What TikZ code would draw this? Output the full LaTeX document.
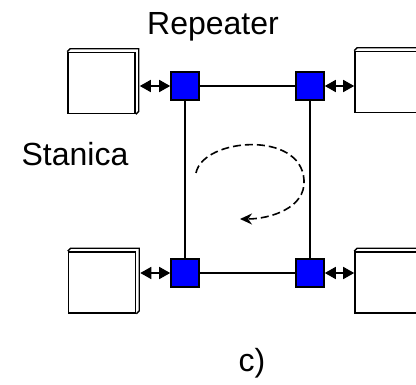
\documentclass[tikz,border=0pt]{standalone}
\usepackage{fontspec}
\setmainfont{Liberation Sans}
\usetikzlibrary{arrows.meta}

\begin{document}
\begin{tikzpicture}[x=1pt, y=-1pt, line width=1.6pt,
  repeater/.style={draw, fill=blue, minimum size=28pt, inner sep=0pt},
  station/.style={draw, fill=white, minimum width=67pt, minimum height=61pt, inner sep=0pt},
  link/.style={{Triangle[length=11pt,width=12pt]}-{Triangle[length=11pt,width=12pt]}},
  label/.style={anchor=base, font=\fontsize{32}{38}\selectfont}]
 \useasboundingbox (0,0) rectangle (416,385);

 % repeaters in the ring
 \node[repeater] (rTL) at (185,86) {};
 \node[repeater] (rTR) at (310,86) {};
 \node[repeater] (rBL) at (185,273) {};
 \node[repeater] (rBR) at (310,273) {};
 \draw (rTL) -- (rTR) -- (rBR) -- (rBL) -- (rTL);

 % stations
 \node[station] (sTL) at (101.5,83) {};
 \node[station] (sBL) at (102,282.5) {};
 \node[station] (sTR) at (388.5,82) {};
 \node[station] (sBR) at (388.5,282.5) {};
 \foreach \s in {sTL,sBL,sTR,sBR}
  \draw[line width=1.3pt] (\s.north west) -- ++(3,-3) -- ([shift={(3,-3)}]\s.north east)
   -- ([shift={(3,-3)}]\s.south east) -- (\s.south east);

 \draw[link] ([xshift=4pt]sTL.east |- rTL.west) -- (rTL.west);
 \draw[link] ([xshift=4pt]sBL.east |- rBL.west) -- (rBL.west);
 \draw[link] (rTR.east) -- (sTR.west |- rTR.east);
 \draw[link] (rBR.east) -- (sBR.west |- rBR.east);

 % direction of the ring
 \draw[dash pattern=on 8pt off 4pt, -{Stealth[length=12pt,width=11pt]}]
  (196,173) .. controls (203,138) and (301,130) .. (304,180)
  .. controls (306,208) and (270,219) .. (240,219);

 \node[label] (rep) at (213,35) {Repeater};
 \node[label] (sta) at (75,166) {Stanica};
 \node[label] (cap) at (252,372) {c)};
\end{tikzpicture}
\end{document}
